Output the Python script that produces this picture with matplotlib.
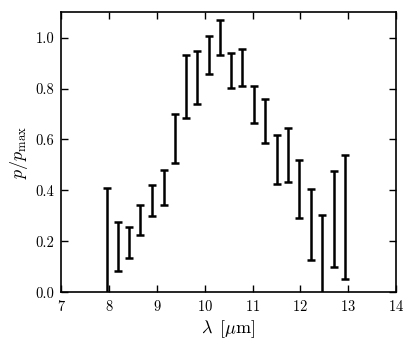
import matplotlib
matplotlib.use("Agg")
import numpy as np
import matplotlib.pyplot as plt

plt.rcParams['font.family'] = 'serif'
plt.rcParams['font.serif'] = ['cmr10']
plt.rcParams['mathtext.fontset'] = 'cm'
plt.rcParams['axes.formatter.use_mathtext'] = True

# wavelength bins [um] and the lower / upper edge of each error bar
wavelength = [7.95, 8.19, 8.42, 8.65, 8.90, 9.14, 9.37, 9.60, 9.85, 10.09, 10.32,
              10.56, 10.79, 11.03, 11.27, 11.51, 11.75, 11.98, 12.22, 12.46, 12.70, 12.93]
p_low = [-0.10, 0.083, 0.133, 0.226, 0.299, 0.341, 0.506, 0.686, 0.741, 0.856, 0.933,
         0.802, 0.809, 0.663, 0.587, 0.424, 0.434, 0.293, 0.127, -0.10, 0.098, 0.051]
p_high = [0.41, 0.276, 0.257, 0.341, 0.42, 0.48, 0.698, 0.931, 0.948, 1.006, 1.068,
          0.94, 0.954, 0.809, 0.758, 0.617, 0.643, 0.519, 0.405, 0.302, 0.476, 0.538]

x = np.array(wavelength)
lo = np.array(p_low)
hi = np.array(p_high)
mid = (lo + hi) / 2
err = (hi - lo) / 2

fig = plt.figure(figsize=(4.16, 3.47), dpi=100)
ax = fig.add_axes([0.147, 0.158, 0.805, 0.807])

ax.errorbar(x, mid, yerr=err, fmt='none', ecolor='k', elinewidth=1.8,
            capsize=2.6, capthick=1.8)

ax.set_xlim(7, 14)
ax.set_ylim(0, 1.1)
ax.set_xticks(range(7, 15))
ax.set_yticks([0.0, 0.2, 0.4, 0.6, 0.8, 1.0])
ax.set_yticklabels(['0.0', '0.2', '0.4', '0.6', '0.8', '1.0'])
ax.tick_params(direction='in', top=True, right=True, length=5, width=1,
               labelsize=10.5, pad=5)
for s in ax.spines.values():
    s.set_linewidth(1.2)

ax.set_xlabel(r'$\lambda\ \,[\mu{\rm m}]$', fontsize=13, labelpad=3)
ax.set_ylabel(r'$p/p_{\rm max}$', fontsize=13)

fig.savefig('out.png', dpi=100)
